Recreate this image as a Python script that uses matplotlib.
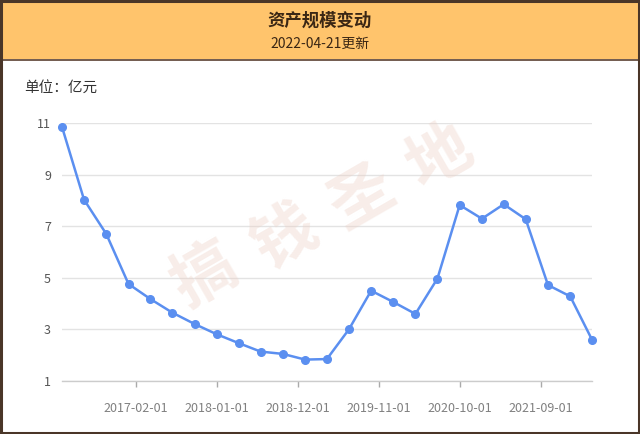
import matplotlib
matplotlib.use("Agg")
import matplotlib.pyplot as plt
from matplotlib.patches import Rectangle
import pandas as pd

plt.rcParams['font.family'] = ['Noto Sans CJK SC', 'DejaVu Sans']

title = "资产规模变动"
subtitle = "2022-04-21更新"
unit_label = "单位：亿元"
watermark = "搞钱圣地"

dates = pd.to_datetime([
    "2016-03-31", "2016-06-30", "2016-09-30", "2016-12-31",
    "2017-03-31", "2017-06-30", "2017-09-30", "2017-12-31",
    "2018-03-31", "2018-06-30", "2018-09-30", "2018-12-31",
    "2019-03-31", "2019-06-30", "2019-09-30", "2019-12-31",
    "2020-03-31", "2020-06-30", "2020-09-30", "2020-12-31",
    "2021-03-31", "2021-06-30", "2021-09-30", "2021-12-31",
    "2022-03-31",
])
assets = [10.85, 8.03, 6.70, 4.76, 4.18, 3.65, 3.21, 2.81, 2.47, 2.14,
          2.05, 1.83, 1.85, 3.00, 4.50, 4.06, 3.60, 4.97, 7.82, 7.29,
          7.85, 7.27, 4.72, 4.28, 2.60]
y_ticks = [1, 3, 5, 7, 9, 11]
x_tick_labels = ["2017-02-01", "2018-01-01", "2018-12-01",
                 "2019-11-01", "2020-10-01", "2021-09-01"]

W, H = 640, 434
fig = plt.figure(figsize=(W / 100, H / 100), dpi=100)
fig.patch.set_facecolor("white")

def fx(px):
    return px / W

def fy(py):
    return 1 - py / H

# header band
fig.patches.append(Rectangle((0, fy(59)), 1, 59 / H, transform=fig.transFigure,
                             facecolor="#FFC46C", edgecolor="none", zorder=0))
fig.add_artist(plt.Line2D([0, 1], [fy(59.5), fy(59.5)], transform=fig.transFigure,
                          color="#5a4030", lw=1.2))
# outer frame
fig.patches.append(Rectangle((0.0015, 0.002), 0.997, 0.996, transform=fig.transFigure,
                             facecolor="none", edgecolor="#4a3628", lw=2.2, zorder=10))

fig.text(0.5, fy(21), title, ha="center", va="center", fontsize=12.5,
         fontweight="bold", color="#3a2614")
fig.text(0.5, fy(44), subtitle, ha="center", va="center", fontsize=10,
         color="#3a2614")
fig.text(fx(24), fy(88), unit_label, ha="left", va="center", fontsize=10.5,
         color="#333333")

# watermark characters along a diagonal
wm_x = [205, 285, 362, 440]
wm_y = [276, 238, 198, 157]
for ch, x, y in zip(watermark, wm_x, wm_y):
    fig.text(fx(x), fy(y), ch, ha="center", va="center", fontsize=46,
             fontweight="bold", rotation=30, color="#ECCFC4", alpha=0.36,
             zorder=1)

left, right, top, bottom = 62, 592, 123, 381
ax = fig.add_axes([fx(left), fy(bottom), (right - left) / W, (bottom - top) / H])
ax.set_facecolor("none")

ax.plot(dates, assets, color="#5B8FF0", lw=1.8, marker="o", markersize=5.5,
        markerfacecolor="#5B8FF0", markeredgecolor="#5B8FF0", zorder=5,
        clip_on=False)

ax.set_xlim(dates[0], dates[-1])
ax.set_ylim(1, 11)
ax.set_yticks(y_ticks)
ax.set_yticklabels([str(v) for v in y_ticks])
ax.set_xticks(pd.to_datetime(x_tick_labels))
ax.set_xticklabels(x_tick_labels)

ax.grid(axis="y", color="#E3E3E3", lw=1)
ax.set_axisbelow(True)
for s in ["top", "right", "left"]:
    ax.spines[s].set_visible(False)
ax.spines["bottom"].set_color("#CCCCCC")
ax.spines["bottom"].set_linewidth(1)
ax.tick_params(axis="y", length=0, pad=8, labelsize=9, labelcolor="#555555")
ax.tick_params(axis="x", length=4, width=1, color="#AAAAAA", pad=11,
               labelsize=9, labelcolor="#808080")

fig.savefig("out.png", dpi=100)
